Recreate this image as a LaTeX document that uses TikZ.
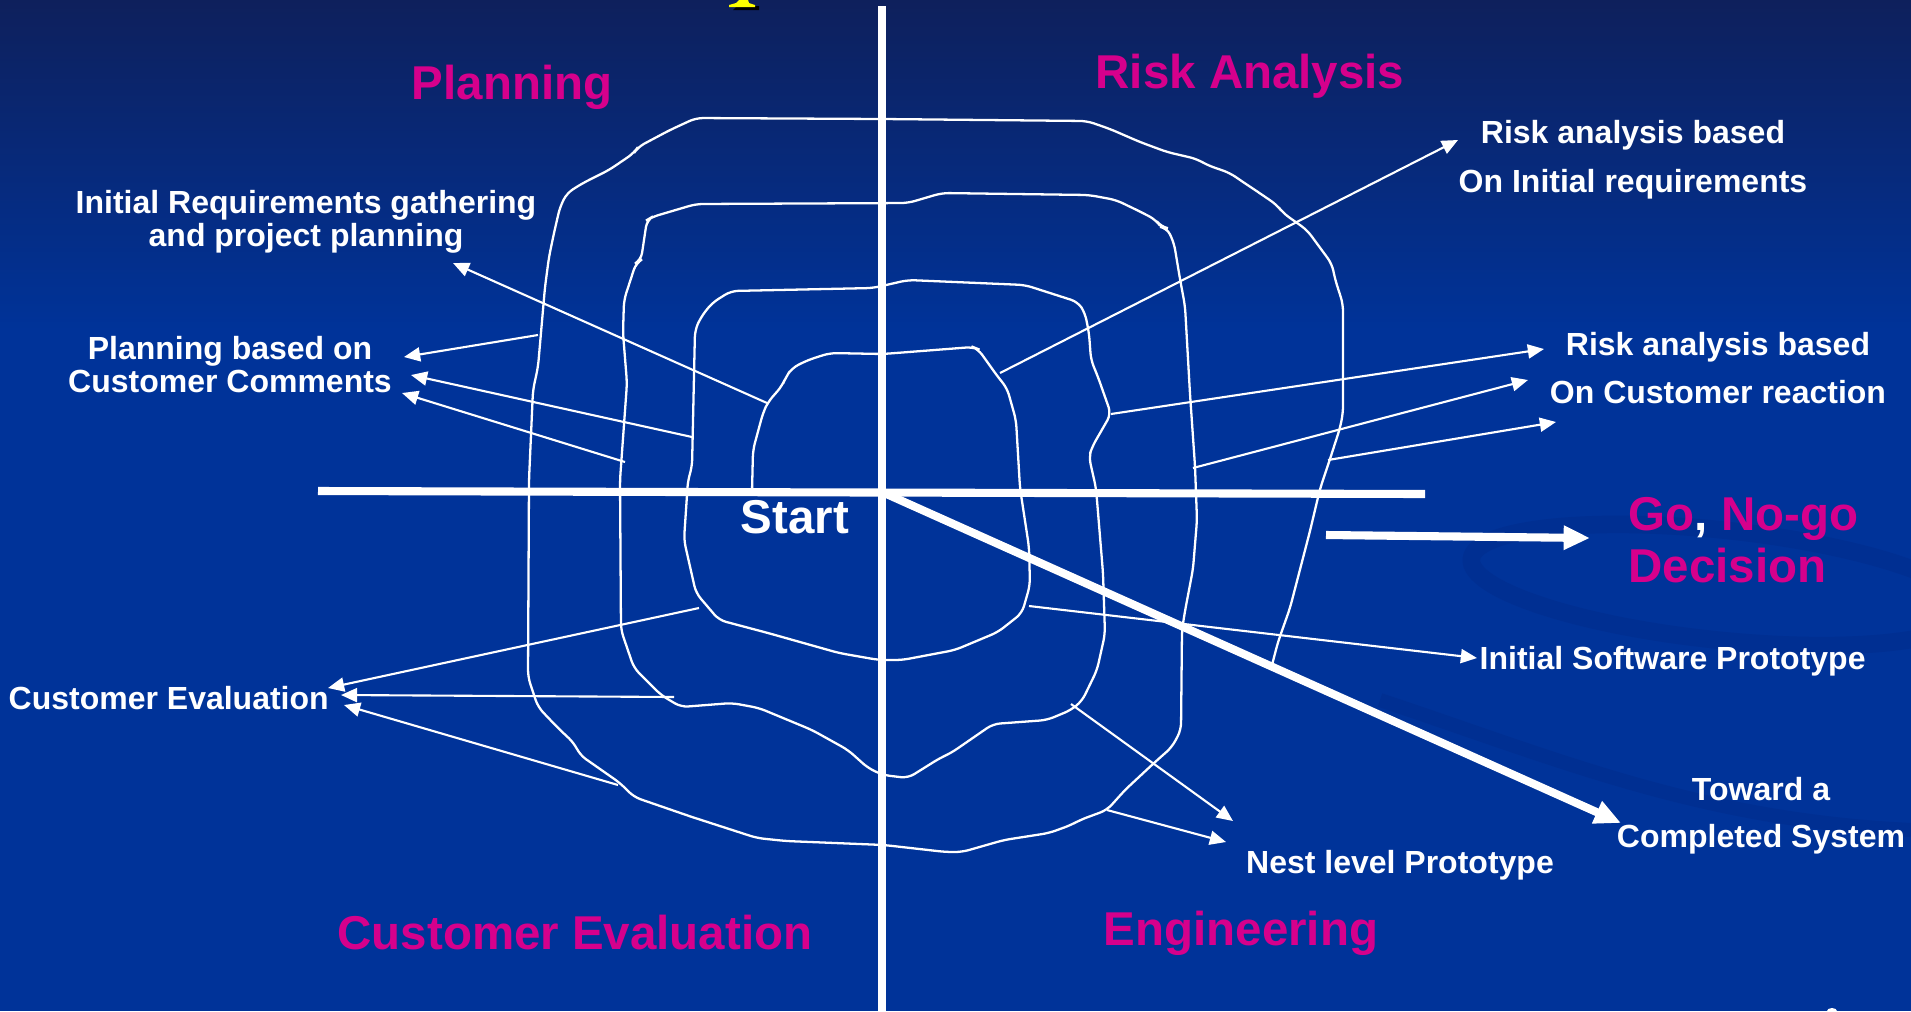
\documentclass[tikz,border=0pt]{standalone}
\usepackage{fontspec}
\setmainfont{Liberation Sans}
\usetikzlibrary{arrows.meta}
\definecolor{slideblue}{RGB}{0,51,153}
\definecolor{slidetop}{RGB}{14,32,92}
\definecolor{swirlblue}{RGB}{0,47,146}
\definecolor{phasepink}{RGB}{214,0,140}
\definecolor{titleyellow}{RGB}{255,255,0}

\begin{document}
\begin{tikzpicture}[x=0.01cm,y=-0.01cm,
    spiral line/.style={white,line width=0.65pt,rounded corners=2pt},
    axis line/.style={white,line width=2.3pt},
    thin arrow/.style={white,line width=0.6pt,-{Triangle[length=4.6pt,width=4pt]}},
    thick arrow/.style={white,line width=2.3pt,-{Triangle[length=7.5pt,width=6.5pt]}},
    phase label/.style={text=phasepink,font=\fontsize{13.5}{15}\selectfont\bfseries,inner sep=0pt},
    note label/.style={text=white,font=\fontsize{9.1}{9.4}\selectfont\bfseries,inner sep=0pt,align=center}]
  \useasboundingbox (0,0) rectangle (1911,1011);
  % slide background
  \fill[slideblue] (0,0) rectangle (1911,1011);
  \shade[top color=slidetop,bottom color=slideblue] (0,0) rectangle (1911,330);
  \draw[swirlblue,line width=5pt,rotate around={-6:(1720,585)}] (1720,585) ellipse (250 and 55);
  \draw[swirlblue,line width=4pt] (1380,700) .. controls (1560,760) and (1700,820) .. (1911,830);
  % cut-off title and page number
  \fill[black] (737,6) -- (759,6) -- (759,10) -- (733,10) -- cycle;
  \fill[titleyellow] (739,0) -- (748,0) -- (749,3) -- (755,5) -- (755,7) -- (729,7) -- (729,5) -- (736,3) -- cycle;
  \fill[white] (1832,1011) ellipse (5 and 3);

  % axes
  \coordinate (o) at (882,492);
  \coordinate (west) at (318,491);
  \coordinate (east) at (1425,494);
  \coordinate (north) at (882,6);
  \coordinate (south) at (882,1011);
  \path (west) edge[axis line] (east);
  \path (north) edge[axis line] (south);

  % the spiral, from Start outwards
  \draw[spiral line] (752,492) -- (753,450) -- (763,413) -- (768,402) -- (782,386) -- (786,377)
    -- (792,368) -- (808,360) -- (830,353) -- (883,354) -- (973,347) -- (978,349) -- (998,377)
    -- (1007,388) -- (1016,420) -- (1020,488) -- (1029,547) -- (1030,585) -- (1022,613)
    -- (998,632) -- (955,650) -- (902,660) -- (879,660) -- (839,653) -- (768,633) -- (719,620)
    -- (696,593) -- (684,540) -- (688,480) -- (692,467) -- (695,330) -- (701,317) -- (712,303)
    -- (731,291) -- (873,288) -- (908,280) -- (1025,285) -- (1078,302) -- (1085,313)
    -- (1089,333) -- (1091,360) -- (1098,377) -- (1111,414) -- (1092,447) -- (1089,457)
    -- (1096,488) -- (1103,573) -- (1105,634) -- (1097,670) -- (1082,701) -- (1071,710)
    -- (1047,720) -- (993,724) -- (951,753) -- (940,758) -- (908,778) -- (883,775) -- (868,768)
    -- (848,750) -- (812,730) -- (759,708) -- (732,703) -- (681,707) -- (661,695) -- (634,668)
    -- (621,630) -- (620,480) -- (627,383) -- (623,333) -- (624,300) -- (636,263) -- (641,260)
    -- (647,220) -- (652,217) -- (696,204) -- (908,203) -- (942,193) -- (1089,195) -- (1116,200)
    -- (1143,213) -- (1156,220) -- (1161,227) -- (1167,228) -- (1174,243) -- (1180,279)
    -- (1185,306) -- (1190,394) -- (1195,466) -- (1197,520) -- (1193,569) -- (1185,611)
    -- (1182,630) -- (1181,730) -- (1172,747) -- (1154,763) -- (1125,790) -- (1107,810)
    -- (1080,820) -- (1071,825) -- (1049,833) -- (1004,840) -- (962,852) -- (946,852)
    -- (884,845) -- (786,841) -- (757,838) -- (692,817) -- (634,797) -- (620,783) -- (580,755)
    -- (574,743) -- (558,728) -- (538,707) -- (528,677) -- (529,480) -- (533,390) -- (538,367)
    -- (545,287) -- (549,257) -- (554,233) -- (560,207) -- (567,193) -- (583,183) -- (609,170)
    -- (634,153) -- (638,147) -- (670,130) -- (696,118) -- (883,119) -- (1087,121) -- (1110,129)
    -- (1140,142) -- (1167,152) -- (1197,159) -- (1207,165) -- (1230,173) -- (1240,180)
    -- (1258,192) -- (1277,205) -- (1283,213) -- (1307,230) -- (1332,264) -- (1335,279)
    -- (1343,304) -- (1343,413) -- (1340,428) -- (1330,459) -- (1320,489) -- (1310,531)
    -- (1290,608) -- (1278,642) -- (1272,665);

  % phase names
  \node[phase label,anchor=base] (planning) at (512,99) {Planning};
  \node[phase label,anchor=base] (risk) at (1250,88) {Risk Analysis};
  \node[phase label,anchor=base] (evaluation) at (575,949) {Customer Evaluation};
  \node[phase label,anchor=base] (engineering) at (1241,945) {Engineering};
  \node[phase label,anchor=west,align=left,font=\fontsize{13.5}{14.8}\selectfont\bfseries] (decision) at (1628,540) {Go{\color{white},} No-go\\Decision};
  \node[phase label,text=white,anchor=base] (start) at (795,533) {Start};

  % notes
  \node[note label] (reqs) at (306,222) {Initial Requirements gathering\\and project planning};
  \node[note label] (plancust) at (230,365) {Planning based on\\Customer Comments};
  \node[note label,font=\fontsize{9.1}{14}\selectfont\bfseries] (riskinit) at (1633,160) {Risk analysis based\\On Initial requirements};
  \node[note label,font=\fontsize{9.1}{13.4}\selectfont\bfseries] (riskcust) at (1718,368) {Risk analysis based\\On Customer reaction};
  \node[note label,anchor=base west] (softproto) at (1479,669) {Initial Software Prototype};
  \node[note label,anchor=base west] (custeval) at (8,709) {Customer Evaluation};
  \node[note label,anchor=base] (nestproto) at (1400,873) {Nest level Prototype};
  \node[note label,font=\fontsize{9.1}{13.4}\selectfont\bfseries] (toward) at (1761,816) {Toward a\\Completed System};

  % arrow ends
  \coordinate (s1) at (767,403);   \coordinate (t1) at (453,263);
  \coordinate (s2) at (538,335);   \coordinate (t2) at (404,357);
  \coordinate (s3) at (692,437);   \coordinate (t3) at (411,375);
  \coordinate (s4) at (625,462);   \coordinate (t4) at (402,393);
  \coordinate (s5) at (1000,373);  \coordinate (t5) at (1458,140);
  \coordinate (s6) at (1111,414);  \coordinate (t6) at (1544,349);
  \coordinate (s7) at (1193,468);  \coordinate (t7) at (1528,380);
  \coordinate (s8) at (1328,460);  \coordinate (t8) at (1556,422);
  \coordinate (s9) at (1029,606);  \coordinate (t9) at (1477,658);
  \coordinate (s10) at (1071,704); \coordinate (t10) at (1233,821);
  \coordinate (s11) at (1107,810); \coordinate (t11) at (1226,842);
  \coordinate (s12) at (699,608);  \coordinate (t12) at (328,688);
  \coordinate (s13) at (674,697);  \coordinate (t13) at (341,695);
  \coordinate (s14) at (618,785);  \coordinate (t14) at (344,705);
  \coordinate (g0) at (1326,535);  \coordinate (g1) at (1590,538);
  \coordinate (d1) at (1621,823);

  \path (s1) edge[thin arrow] (t1);
  \path (s2) edge[thin arrow] (t2);
  \path (s3) edge[thin arrow] (t3);
  \path (s4) edge[thin arrow] (t4);
  \path (s5) edge[thin arrow] (t5);
  \path (s6) edge[thin arrow] (t6);
  \path (s7) edge[thin arrow] (t7);
  \path (s8) edge[thin arrow] (t8);
  \path (s9) edge[thin arrow] (t9);
  \path (s10) edge[thin arrow] (t10);
  \path (s11) edge[thin arrow] (t11);
  \path (s12) edge[thin arrow] (t12);
  \path (s13) edge[thin arrow] (t13);
  \path (s14) edge[thin arrow] (t14);
  \path (g0) edge[thick arrow] (g1);
  \path (o) edge[thick arrow] (d1);
\end{tikzpicture}
\end{document}
